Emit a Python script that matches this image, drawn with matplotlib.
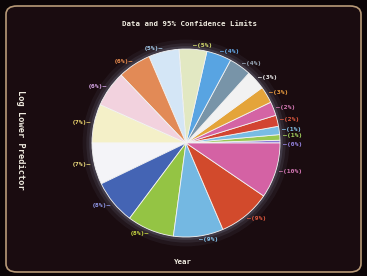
import numpy as np
import matplotlib
matplotlib.use("Agg")
import matplotlib.pyplot as plt
from matplotlib.patches import FancyBboxPatch, Circle

# slice values (displayed as rounded percentages)
values = [1, 2, 3, 4, 5, 6, 7, 8, 9, 10, 11, 12, 13, 14, 15, 16, 17, 18, 19, 20]
labels = ["(0%)", "(1%)", "(1%)", "(2%)", "(2%)", "(3%)", "(3%)", "(4%)", "(4%)", "(5%)",
          "(5%)", "(6%)", "(6%)", "(7%)", "(7%)", "(8%)", "(8%)", "(9%)", "(9%)", "(10%)"]
colors = ["#8a78d8", "#98c850", "#78bce4", "#d24432", "#d464a4", "#e4a43a", "#f2f2f2",
          "#7894a8", "#58a4e2", "#e2e8c2", "#d4e6f6", "#e28a56", "#f2d2de", "#f4f0c8",
          "#f4f4f8", "#4464b4", "#94c444", "#74b8e2", "#d24a2c", "#d462a4"]
label_colors = ["#9a88e8", "#a8d860", "#88c8f0", "#e05a40", "#d87ab8", "#f0a040", "#f0f0f0",
                "#a0b0c0", "#68b0f0", "#d8e070", "#a8d0f0", "#f09050", "#d8a8e8", "#f0d870",
                "#f0e080", "#9098e8", "#c8d840", "#88c8f0", "#e05a40", "#d87ab8"]

title = "Data and 95% Confidence Limits"
xlabel = "Year"
ylabel = "Log Lower Predictor"

W, H = 367, 276
fig = plt.figure(figsize=(W / 100, H / 100), dpi=100)
fig.patch.set_facecolor("#0c0507")

# CRT screen area
screen = FancyBboxPatch((6 / W, 4 / H), (W - 12) / W, (H - 10) / H,
                        boxstyle="round,pad=0,rounding_size=0.03",
                        transform=fig.transFigure, facecolor="#1a0c10",
                        edgecolor="#b89a78", linewidth=1.2, zorder=-5)
fig.patches.append(screen)

cx, cy, R = 186, 133, 94
ax = fig.add_axes([0, 0, 1, 1])
ax.set_facecolor("none")

# faint glow around the pie
for r, a in [(1.10, 0.05), (1.06, 0.08), (1.03, 0.12)]:
    ax.add_patch(Circle((0, 0), r, color="#c8d8ff", alpha=a, lw=0))

wedges, _ = ax.pie(values, colors=colors, startangle=0, counterclock=True, radius=1,
                   wedgeprops=dict(edgecolor="#f4f4f4", linewidth=0.6))

# small nudges so the thin-slice labels don't collide
nudge = {0: -0.035, 1: 0.015}
for i, w in enumerate(wedges):
    mid = np.deg2rad((w.theta1 + w.theta2) / 2)
    x, y = 1.03 * np.cos(mid), 1.04 * np.sin(mid) + nudge.get(i, 0)
    if np.cos(mid) >= 0:
        txt, ha = "\u2014" + labels[i], "left"
    else:
        txt, ha = labels[i] + "\u2014", "right"
    ax.text(x, y, txt, ha=ha, va="center", fontsize=4.6, color=label_colors[i],
            family="DejaVu Sans Mono", fontweight="bold")

ax.set_aspect("auto")
ax.set_xlim(-cx / R, (W - cx) / R)
ax.set_ylim(-cy / R, (H - cy) / R)
ax.axis("off")

fig.text(190 / W, 1 - 24 / H, title, ha="center", va="center", fontsize=5.3,
         color="#f0ece0", family="DejaVu Sans Mono", fontweight="bold")
fig.text(183 / W, 1 - 262 / H, xlabel, ha="center", va="center", fontsize=5.3,
         color="#f0ece0", family="DejaVu Sans Mono", fontweight="bold")
fig.text(20 / W, 1 - 140 / H, ylabel, ha="center", va="center", fontsize=6.2,
         rotation=-90, color="#f0ece0", family="DejaVu Sans Mono", fontweight="bold")

fig.savefig("out.png", dpi=100, facecolor=fig.get_facecolor())
